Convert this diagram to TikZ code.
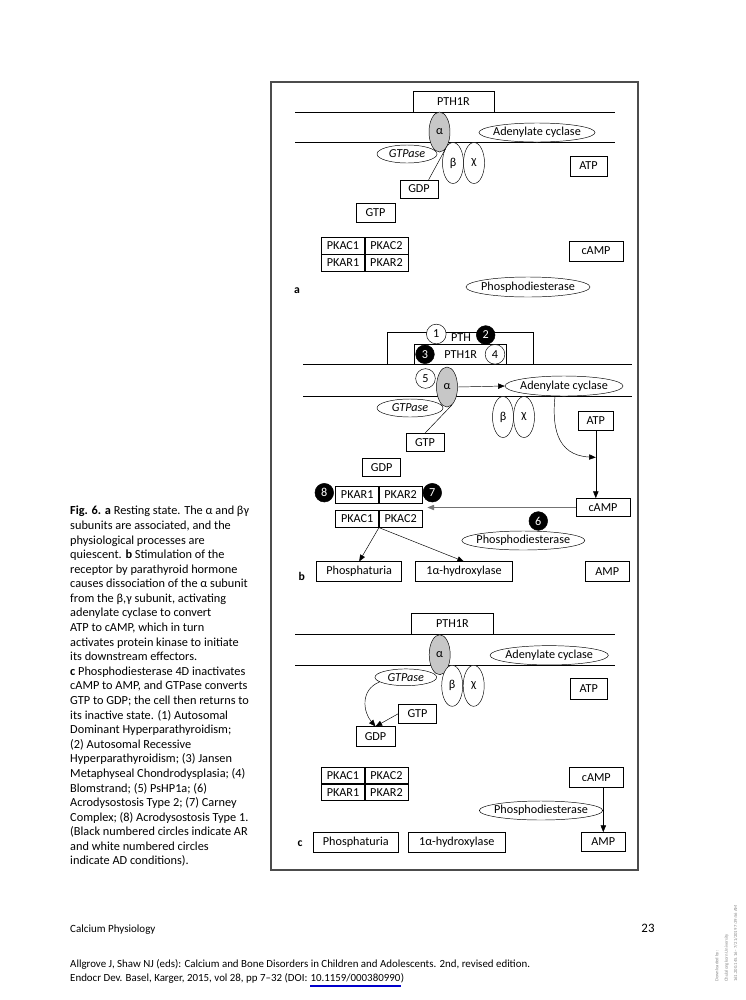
\documentclass[tikz,border=0pt]{standalone}
\usepackage{fontspec}
\setmainfont{Carlito}
\usetikzlibrary{shapes.geometric,arrows.meta,positioning,calc}

\begin{document}
\begin{tikzpicture}[x=0.03cm, y=-0.03cm,
    font=\fontsize{10.4}{12}\selectfont,
    wd/.style={minimum width=#1*0.03cm},
    ht/.style={minimum height=#1*0.03cm},
    box/.style={draw, inner sep=0pt},
    cell/.style={draw, inner sep=0pt, minimum width=1.29cm, minimum height=0.51cm},
    ell/.style={ellipse, draw, fill=white, inner xsep=-8pt, inner ysep=0pt},
    alf/.style={ell, fill=black!22, wd=21, ht=40},
    gsub/.style={ell, wd=21, ht=41},
    wcirc/.style={circle, draw, fill=white, inner sep=0pt, minimum size=0.59cm},
    bcirc/.style={circle, draw, fill=black, text=white, inner sep=0pt, minimum size=0.56cm},
    arr/.style={-{Triangle[length=2mm,width=1.6mm]}},
    mem/.style={line width=0.5pt},
    lab/.style={font=\bfseries\fontsize{10}{12}\selectfont},
    foot/.style={inner sep=0pt, font=\fontsize{9.3}{11}\selectfont}]
  \fill[white] (0,0) rectangle (745,1000);
  \useasboundingbox (0,0) rectangle (745,1000);
  \draw[black!70, line width=0.9pt] (271,82) rectangle (638,870);

  \draw[mem] (295,112) -- (615,112) (295,142) -- (615,142);
  \node[box, wd=81, ht=21] (rec1) at (453.5,101.5) {PTH1R};
  \node[alf] (alf1) at (439.5,132) {α};
  \node[ell, wd=116, ht=19] (ac1) at (537,132.5) {Adenylate cyclase};
  \node[ell, wd=60, ht=18] (gtpase1) at (407,154) {\itshape GTPase};
  \node[gsub] (bet1) at (453,163) {β}; \node[gsub] (chi1) at (474,163) {χ};
  \node[box, wd=37, ht=20] (atp1) at (588.5,166) {ATP};
  \node[box, wd=38, ht=18] (gdp1) at (419,189) {GDP};
  \node[box, wd=39, ht=19] (gtp1) at (375.5,212.5) {GTP};
  \node[cell] (kc1a) at (343,245.5) {PKAC1}; \node[cell, right=0pt of kc1a] (kc1b) {PKAC2};
  \node[cell, below=0pt of kc1a] (kr1a) {PKAR1}; \node[cell, right=0pt of kr1a] (kr1b) {PKAR2};
  \node[box, wd=54, ht=20] (camp1) at (596,251) {cAMP};
  \node[ell, wd=124, ht=20] (pde1) at (528,287) {Phosphodiesterase};
  \node[lab] (la) at (297,291) {a};
  \draw ($(gdp1.north west)!0.75!(gdp1.north east)$) -- (alf1.-70);

  \draw[mem] (303,364) -- (632,364) (303,396) -- (632,396);
  \draw (387,364) |- (533,332) -- (533,364);
  \node (pth2) at (461,337.5) {PTH};
  \node[box, wd=92, ht=20] (rec2) at (460.2,354) {};
  \node (rtx2) at (460.7,354.3) {PTH1R};
  \node[wcirc] (n1) at (436.3,334) {1}; \node[bcirc] (n2) at (485.7,335) {2};
  \node[bcirc] (n3) at (425,354.3) {3}; \node[wcirc] (n4) at (495,354.3) {4};
  \node[ell, wd=66, ht=18] (gtpase2) at (410,408) {\itshape GTPase};
  \node[alf] (alf2) at (447,387) {α};
  \node[wcirc] (n5) at (425.5,378.5) {5};
  \node[ell, wd=118, ht=20] (ac2) at (564,386) {Adenylate cyclase};
  \node[gsub] (bet2) at (503,417) {β}; \node[gsub] (chi2) at (524,417) {χ};
  \node[box, wd=35, ht=18.3] (atp2) at (595.8,420.8) {ATP};
  \node[box, wd=38, ht=18.3] (gtp2) at (425,442.5) {GTP};
  \node[box, wd=38, ht=18.3] (gdp2) at (381.7,467.5) {GDP};
  \node[cell, minimum height=0.52cm] (kr2a) at (357.2,494.7) {PKAR1};
  \node[cell, minimum height=0.52cm, right=0pt of kr2a] (kr2b) {PKAR2};
  \node[cell, minimum height=0.52cm] (kc2a) at (357.2,518.7) {PKAC1};
  \node[cell, minimum height=0.52cm, right=0pt of kc2a] (kc2b) {PKAC2};
  \node[bcirc] (n8) at (324.3,492.7) {8}; \node[bcirc] (n7) at (432.3,492.7) {7};
  \node[box, wd=54, ht=18.3] (camp2) at (603,507.5) {cAMP};
  \node[bcirc] (n6) at (538.3,521) {6};
  \node[ell, wd=123, ht=19] (pde2) at (523.3,540.5) {Phosphodiesterase};
  \node[box, wd=85, ht=20] (phos2) at (359.2,571.7) {Phosphaturia};
  \node[box, wd=96.6, ht=20] (hyd2) at (464,571.7) {1α-hydroxylase};
  \node[box, wd=44.3, ht=20] (amp2) at (607.2,571.7) {AMP};
  \node[lab] (lb) at (301.7,576.7) {b};
  \coordinate (hit2) at ($(atp2.south)!0.4!(atp2.south |- camp2.north)$);
  \draw[arr] (alf2.east) -- (ac2.west);
  \draw[arr] ($(ac2.south)+(-9,0)$) .. controls +(-3,29) and +(-40,-2) .. (hit2);
  \draw[arr] (atp2.south) -- (atp2.south |- camp2.north);
  \draw[arr, black!55, shorten >=0.15cm] (camp2.west) -- (camp2.west -| kc2b.east);
  \draw (gtp2.north) -- (alf2.-75);
  \draw[arr] (kc2a.south east) -- (phos2.north);
  \draw[arr] (kc2a.south east) -- (hyd2.north);

  \draw[mem] (295,634.3) -- (615,634.3) (295,665) -- (615,665);
  \node[box, wd=81.6, ht=21] (rec3) at (452.5,623.8) {PTH1R};
  \node[alf] (alf3) at (439.7,654.7) {α};
  \node[ell, wd=118.3, ht=19.3] (ac3) at (549.2,655.3) {Adenylate cyclase};
  \node[ell, wd=61.7, ht=16.7] (gtpase3) at (405.8,677.3) {\itshape GTPase};
  \node[gsub] (bet3) at (452.2,685.8) {β}; \node[gsub] (chi3) at (473.7,685.8) {χ};
  \node[box, wd=37.3, ht=20.7] (atp3) at (588.7,688.7) {ATP};
  \node[box, wd=38.3, ht=19] (gtp3) at (417.5,713.8) {GTP};
  \node[box, wd=39, ht=20] (gdp3) at (375.5,736.7) {GDP};
  \node[cell, minimum height=0.49cm] (kc3a) at (343,775.5) {PKAC1};
  \node[cell, minimum height=0.49cm, right=0pt of kc3a] (kc3b) {PKAC2};
  \node[cell, minimum height=0.49cm, below=0pt of kc3a] (kr3a) {PKAR1};
  \node[cell, minimum height=0.49cm, right=0pt of kr3a] (kr3b) {PKAR2};
  \node[box, wd=54, ht=20] (camp3) at (596.3,777.3) {cAMP};
  \node[ell, wd=123.3, ht=19] (pde3) at (541,810.5) {Phosphodiesterase};
  \node[box, wd=85, ht=20] (phos3) at (355.8,842.3) {Phosphaturia};
  \node[box, wd=96.7, ht=20] (hyd3) at (456.7,842.3) {1α-hydroxylase};
  \node[box, wd=43.3, ht=19.3] (amp3) at (603.3,842) {AMP};
  \node[lab] (lc) at (300,843.3) {c};
  \draw[arr] (gtpase3.190) .. controls +(-20,8) and +(-12,-14) .. (gdp3.north);
  \draw[arr] (gtp3.west) -- (gdp3.north);
  \draw[arr] (camp3.south -| amp3.north) -- (amp3.north);

  \node[anchor=north west, inner sep=0pt, align=left, font=\fontsize{10.5}{12.45}\selectfont] (cap) at (70,506)
    {\textbf{Fig. 6. a} Resting state. The α and βγ\\subunits are associated, and the\\physiological processes are\\
     quiescent. \textbf{b} Stimulation of the\\receptor by parathyroid hormone\\causes dissociation of the α subunit\\
     from the β,γ subunit, activating\\adenylate cyclase to convert\\ATP to cAMP, which in turn\\
     activates protein kinase to initiate\\its downstream effectors.\\\textbf{c} Phosphodiesterase 4D inactivates\\
     cAMP to AMP, and GTPase converts\\GTP to GDP; the cell then returns to\\its inactive state. (1) Autosomal\\
     Dominant Hyperparathyroidism;\\(2) Autosomal Recessive\\Hyperparathyroidism; (3) Jansen\\
     Metaphyseal Chondrodysplasia; (4)\\Blomstrand; (5) PsHP1a; (6)\\Acrodysostosis Type 2; (7) Carney\\
     Complex; (8) Acrodysostosis Type 1.\\(Black numbered circles indicate AR\\and white numbered circles\\
     indicate AD conditions).};

  \node[foot, anchor=west, font=\fontsize{9.4}{11}\selectfont] (run) at (70,930) {Calcium Physiology};
  \node[font=\fontsize{11}{13}\selectfont] (pg) at (648,928) {23};
  \node[foot, anchor=base west] (cite1) at (70,967.5)
    {Allgrove J, Shaw NJ (eds): Calcium and Bone Disorders in Children and Adolescents. 2nd, revised edition.};
  \node[foot, anchor=base west] (cite2) at (70,981.5) {Endocr Dev. Basel, Karger, 2015, vol 28, pp 7–32 (DOI:};
  \node[foot, anchor=base west] (doi) at ([xshift=2.3pt]cite2.base east) {10.1159/000380990};
  \node[foot, anchor=base west] (cite3) at (doi.base east) {)};
  \draw[blue!80!black, line width=1.6pt] ([yshift=-3.5pt]doi.base west) -- ([yshift=-3.5pt]doi.base east);
  \node[rotate=90, anchor=north west, inner sep=0pt, align=left, text=black!45, font=\fontsize{4}{8}\selectfont] (dl) at (715,982)
    {Downloaded by:\\Chulalongkorn University\\161.200.145.16 - 7/21/2019 7:39:56 AM};
\end{tikzpicture}
\end{document}
